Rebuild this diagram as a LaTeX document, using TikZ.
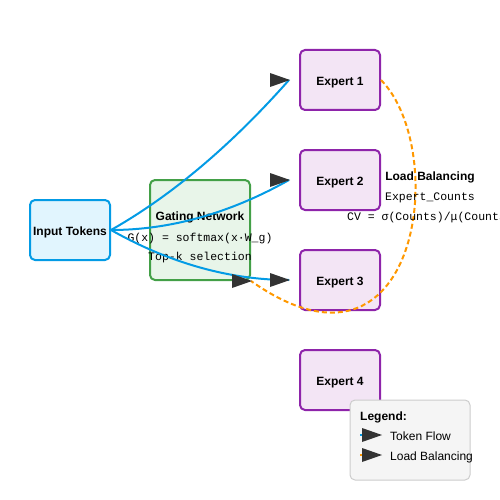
\documentclass[tikz,border=0pt]{standalone}
\usepackage{fontspec}
\setmainfont{Liberation Sans}
\newfontfamily\codefont{Liberation Mono}
\usetikzlibrary{positioning}
\definecolor{flowblue}{RGB}{3,155,229}
\definecolor{infill}{RGB}{225,245,254}
\definecolor{gategreen}{RGB}{67,160,71}
\definecolor{gatefill}{RGB}{232,245,233}
\definecolor{exppurple}{RGB}{142,36,170}
\definecolor{expfill}{RGB}{243,229,245}
\definecolor{balorange}{RGB}{255,152,0}
\definecolor{headgray}{RGB}{51,51,51}
\definecolor{legfill}{RGB}{245,245,245}
\definecolor{legdraw}{RGB}{204,204,204}
\tikzset{
  box/.style={draw,line width=2pt,rounded corners=5pt,inner sep=0pt,
    minimum width=80pt,minimum height=60pt,text height=11pt,text depth=0pt,
    font=\fontsize{12}{14}\selectfont\bfseries},
  inbox/.style={box,draw=flowblue,fill=infill},
  gatebox/.style={box,draw=gategreen,fill=gatefill,minimum width=100pt,minimum height=100pt},
  expbox/.style={box,draw=exppurple,fill=expfill},
  legbox/.style={draw=legdraw,fill=legfill,line width=1pt,rounded corners=5pt,
    minimum width=120pt,minimum height=80pt},
  title/.style={inner sep=0pt,anchor=base,font=\fontsize{12}{14}\selectfont\bfseries},
  code/.style={inner sep=0pt,anchor=base,font=\fontsize{11.5}{13}\selectfont\codefont},
  plain/.style={inner sep=0pt,anchor=base west,font=\fontsize{12}{14}\selectfont},
  flow/.style={draw=flowblue,line width=2pt},
  balance/.style={draw=balorange,line width=2pt,dash pattern=on 5pt off 3pt},
  head/.pic={\fill[headgray] (1,0) -- (-19,-7) -- (-19,7) -- cycle;}
}
\begin{document}
\begin{tikzpicture}[line cap=butt,line join=round,x=1pt,y=-1pt]
\useasboundingbox (0,0) rectangle (500,500);
% boxes
\node[inbox] (in) at (70,230) {Input Tokens};
\node[gatebox] (gate) at (200,230) {};
\foreach \i in {1,...,4}
  \node[expbox] (e\i) at (340,{80+100*(\i-1)}) {Expert \i};
\foreach \i in {1,...,3}
  \coordinate[left=10pt of e\i] (t\i);
% gating text
\node[title] (gtitle) at (200,220) {Gating Network};
\node[code] (gform) at (200,241) {G(x) = softmax(x·W\_g)};
\node[code] (gtopk) at (200,260) {Top-k selection};
% token flow
\draw[flow] (in.east) .. controls (170,196.7) and (230,146.7) .. (t1);
\draw[flow] (in.east) .. controls (170,230) and (230,213.3) .. (t2);
\draw[flow] (in.east) .. controls (170,263.3) and (230,280) .. (t3);
\foreach \i in {1,...,3}
  \pic at (t\i) {head};
% load balancing
\draw[balance] (e1.east) .. controls (450,150) and (420,400) .. (gate.south east);
\pic at (gate.south east) {head};
\node[title] (ltitle) at (430,180) {Load Balancing};
\node[code] (lcount) at (430,200) {Expert\_Counts};
\node[code] (lcv) at (430,220) {CV = σ(Counts)/μ(Counts)};
% legend
\node[legbox] (leg) at (410,440) {};
\node[title,anchor=base west] (legt) at (360,420) {Legend:};
\draw[flow] (360,435) -- (380,435);
\pic at (381,435) {head};
\node[plain] (legf) at (390,440) {Token Flow};
\draw[balance] (360,455) -- (380,455);
\pic at (381,455) {head};
\node[plain] (legb) at (390,460) {Load Balancing};
\end{tikzpicture}
\end{document}
